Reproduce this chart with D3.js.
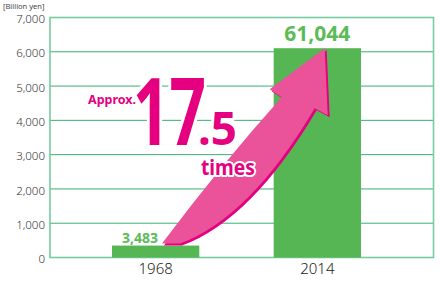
<!DOCTYPE html>
<html lang="en">
<head>
<meta charset="UTF-8">
<title>Billion yen 1968 vs 2014</title>
<script src="https://cdnjs.cloudflare.com/ajax/libs/d3/7.8.5/d3.min.js"></script>
<style>
  body { margin: 0; background: #fff; }
  svg text { font-family: "Noto Sans", "DejaVu Sans", sans-serif; }
</style>
</head>
<body>
<div id="chart"></div>
<script>
// data (axis in billion yen, labels as printed on the chart)
const years = ["1968", "2014"];
const values = [348.3, 6104.4];
const valueLabels = ["3,483", "61,044"];
const yTicks = [0, 1000, 2000, 3000, 4000, 5000, 6000, 7000];
const unitLabel = "[Billion yen]";

const width = 440, height = 287;
const plotLeft = 50, plotRight = 433.5, plotTop = 17.5, plotBottom = 257.5;

const svg = d3.select("#chart").append("svg")
    .attr("width", width)
    .attr("height", height);

const y = d3.scaleLinear().domain([0, 7000]).range([plotBottom, plotTop]);
const x = d3.scaleBand().domain(years).range([112, 361])
    .paddingInner(0.46).paddingOuter(0);

// gridlines
svg.append("g").selectAll("line")
    .data(yTicks.slice(1, -1))
    .enter().append("line")
    .attr("x1", plotLeft).attr("x2", plotRight)
    .attr("y1", d => y(d)).attr("y2", d => y(d))
    .attr("stroke", "#3aae72")
    .attr("stroke-width", 1);

// frame
svg.append("rect")
    .attr("x", plotLeft).attr("y", plotTop)
    .attr("width", plotRight - plotLeft).attr("height", plotBottom - plotTop)
    .attr("fill", "none")
    .attr("stroke", "#76cba0")
    .attr("stroke-width", 1.6);

// y axis labels
const yAxis = d3.axisLeft(y).tickValues(yTicks).tickSize(0).tickPadding(5)
    .tickFormat(d3.format(","));
svg.append("g")
    .attr("transform", `translate(${plotLeft},0)`)
    .call(yAxis)
    .call(g => g.select(".domain").remove())
    .call(g => g.selectAll("text")
        .attr("font-size", 11.5)
        .attr("fill", "#333")
        .attr("font-family", "Noto Sans")
        .attr("font-weight", 300)
        .attr("dy", "0.45em"));

svg.append("text")
    .attr("x", 3).attr("y", 9)
    .attr("font-size", 7.5)
    .attr("fill", "#444")
    .text(unitLabel);

// bars
svg.append("g").selectAll("rect")
    .data(years)
    .enter().append("rect")
    .attr("x", d => x(d))
    .attr("y", (d, i) => y(values[i]))
    .attr("width", x.bandwidth())
    .attr("height", (d, i) => plotBottom - y(values[i]))
    .attr("fill", "#56b653");

// x labels
const xAxis = d3.axisBottom(x).tickSize(0).tickPadding(6);
svg.append("g")
    .attr("transform", `translate(0,${plotBottom})`)
    .call(xAxis)
    .call(g => g.select(".domain").remove())
    .call(g => g.selectAll("text")
        .attr("font-size", 15)
        .attr("fill", "#222")
        .attr("font-weight", 300)
        .attr("font-family", "Noto Sans"));

// value labels
svg.append("text")
    .attr("x", x(years[0]) + 10)
    .attr("y", y(values[0]) - 3)
    .attr("font-size", 14)
    .attr("font-weight", "bold")
    .attr("fill", "#5cbb58")
    .text(valueLabels[0]);

svg.append("text")
    .attr("x", x(years[1]) + x.bandwidth() / 2)
    .attr("y", y(values[1]) - 7)
    .attr("text-anchor", "middle")
    .attr("font-size", 21)
    .attr("font-weight", "bold")
    .attr("fill", "#5cbb58")
    .text(valueLabels[1]);

// curved arrow from the 1968 bar up to the 2014 bar
function arrowPath() {
    const x1 = x(years[0]), y1 = y(values[0]) - 2;
    const x2 = x(years[1]), y2 = y(values[1]);
    const p = d3.path();
    p.moveTo(x1 + 50, y1);
    p.quadraticCurveTo(x1 + 110, y1 - 80, x2 + 8, y2 + 49);
    p.lineTo(x2 - 4, y2 + 41);
    p.lineTo(x2 + 51, y2);
    p.lineTo(x2 + 54, y2 + 67);
    p.lineTo(x2 + 41, y2 + 60);
    p.quadraticCurveTo(x1 + 138, y1 - 26, x1 + 68, y1);
    p.closePath();
    return p.toString();
}

svg.append("path")
    .attr("d", arrowPath())
    .attr("transform", "translate(2,2)")
    .attr("fill", "#e4007f");
svg.append("path")
    .attr("d", arrowPath())
    .attr("fill", "#ea539a");

// annotation
const pink = "#e4007f";
const note = svg.append("g")
    .attr("fill", pink)
    .attr("font-weight", "bold")
    .attr("stroke", "#fff")
    .attr("stroke-linejoin", "round")
    .style("paint-order", "stroke");

note.append("text")
    .attr("x", 88).attr("y", 104)
    .attr("font-size", 12.5)
    .attr("stroke-width", 3)
    .text("Approx.");

const big = note.append("text");
big.append("tspan")
    .attr("x", 133).attr("y", 145)
    .attr("font-size", 94)
    .attr("textLength", 73)
    .attr("lengthAdjust", "spacingAndGlyphs")
    .attr("stroke-width", 8)
    .text("17");
big.append("tspan")
    .attr("x", 198).attr("y", 145)
    .attr("font-size", 46)
    .attr("textLength", 39)
    .attr("lengthAdjust", "spacingAndGlyphs")
    .attr("stroke-width", 6)
    .text(".5");
big.append("tspan")
    .attr("x", 201).attr("y", 175)
    .attr("font-size", 21)
    .attr("textLength", 54)
    .attr("lengthAdjust", "spacingAndGlyphs")
    .attr("stroke-width", 4)
    .text("times");
</script>
</body>
</html>
